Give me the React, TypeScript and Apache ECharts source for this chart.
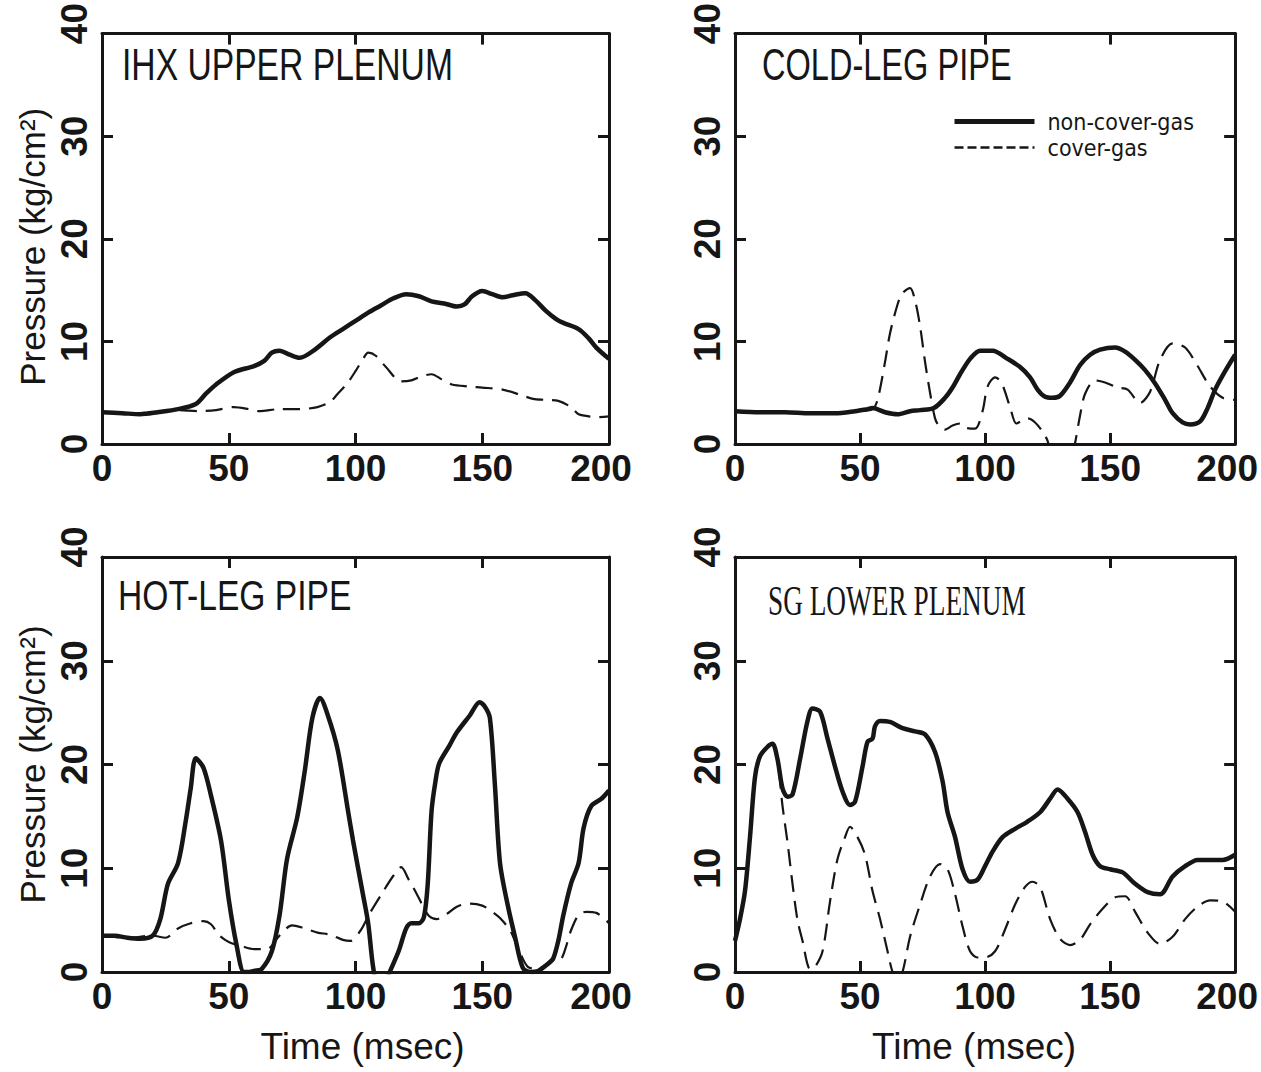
import React, { useEffect, useRef } from "react";
import * as echarts from "echarts";

// ---- data: [time (msec), pressure (kg/cm2)] ----
const ihxSolid = [[0,3.1],[8,3.0],[15,2.9],[22,3.1],[30,3.4],[37,3.9],[41,4.9],[45,5.8],[52,7.0],[60,7.6],[64,8.1],[67,8.9],[70,9.1],[74,8.7],[78,8.4],[84,9.2],[90,10.4],[95,11.2],[100,12.0],[105,12.8],[110,13.5],[115,14.2],[120,14.6],[125,14.4],[130,13.9],[135,13.7],[140,13.4],[143,13.6],[146,14.4],[150,14.9],[154,14.6],[158,14.3],[162,14.5],[167,14.7],[171,14.0],[175,13.0],[179,12.2],[182,11.8],[188,11.2],[192,10.3],[195,9.4],[200,8.3]];
const ihxDashed = [[0,3.1],[10,2.95],[20,3.1],[30,3.3],[38,3.2],[45,3.3],[52,3.6],[58,3.4],[62,3.2],[70,3.4],[78,3.4],[85,3.6],[90,4.1],[93,4.9],[97,6.0],[100,7.1],[103,8.3],[105,8.9],[108,8.6],[112,7.5],[118,6.1],[122,6.2],[126,6.6],[130,6.8],[134,6.3],[138,5.8],[145,5.6],[150,5.5],[158,5.3],[165,4.8],[170,4.4],[175,4.3],[180,4.2],[185,3.6],[188,2.9],[192,2.7],[195,2.6],[200,2.7]];

const coldSolid = [[0,3.2],[10,3.1],[20,3.1],[30,3.0],[40,3.0],[48,3.2],[53,3.4],[55,3.5],[60,3.1],[65,2.9],[70,3.2],[74,3.3],[79.5,3.5],[84,4.5],[87,5.5],[90,6.8],[94,8.3],[98,9.1],[103,9.1],[109,8.3],[114,7.5],[118,6.5],[121,5.3],[124,4.6],[127,4.5],[130,4.7],[134,6.0],[138,7.7],[142,8.7],[146,9.2],[152,9.4],[156,9.0],[160,8.2],[164,7.2],[168,5.9],[172,4.3],[175,3.0],[179,2.1],[182,1.9],[186,2.2],[189,3.5],[192,5.3],[196,7.1],[200,8.7]];
const coldDashed = [[0,3.2],[10,3.1],[20,3.1],[30,3.0],[40,3.0],[50,3.2],[55,3.4],[57,4.3],[60,8.0],[62,10.8],[65,13.6],[67,14.7],[70,15.2],[72,14.0],[74,11.5],[76,8.0],[78,5.0],[80,2.5],[81.5,1.8],[84,1.4],[87,1.8],[90,2.0],[92,1.6],[96,1.5],[99,3.2],[101,5.6],[104,6.5],[106.5,6.0],[110,3.6],[112.5,2.0],[115,2.3],[117,2.5],[120,2.1],[123,1.2],[125,0.3],[128,-2.5],[131,-3.5],[134,-2.0],[136,0.1],[138,2.8],[140,4.9],[144,6.2],[148,6.0],[153,5.5],[157,5.3],[162,4.0],[166,5.1],[170,8.2],[175,9.8],[180,9.4],[185,7.6],[190,5.6],[195,4.5],[200,4.3]];

const hotSolid = [[0,3.5],[5,3.5],[10,3.3],[15,3.2],[20,3.5],[23,5.1],[26,8.5],[30,10.5],[33,14.5],[35,17.7],[37,20.6],[40,19.7],[43,17.0],[47,12.6],[50,7.0],[53,2.7],[56,0.0],[58,0.0],[60,0.1],[63,0.3],[67,2.0],[70,5.4],[73,10.9],[77,14.9],[80,19.4],[83,24.5],[86,26.4],[89,24.8],[93,21.4],[97,15.6],[99,12.7],[103,7.4],[105,4.7],[107,0.4],[109,-1.5],[111,-1.5],[113.5,0.0],[117,2.0],[120,4.2],[122,4.7],[125,4.7],[127,5.3],[128.5,8.5],[130,15.5],[131.5,18.3],[133,20.1],[137,21.8],[140,23.1],[145,24.7],[149,26.0],[151,25.6],[153,24.5],[155,18.0],[157,10.5],[160,6.5],[163,3.3],[166,0.4],[169,0.0],[172,0.1],[176,0.8],[178,1.3],[180,3.0],[182,5.5],[185,8.5],[188,10.5],[190,13.9],[193,16.0],[197,16.7],[200,17.5]];
const hotDashed = [[0,3.5],[10,3.3],[20,3.5],[25,3.3],[30,4.2],[35,4.7],[40,4.9],[43,4.6],[46,3.6],[50,2.9],[55,2.5],[60,2.2],[65,2.2],[70,3.5],[75,4.5],[80,4.2],[85,3.8],[90,3.6],[95,3.1],[98,3.0],[102,4.0],[105.5,5.6],[110,7.4],[115,9.3],[118,10.1],[121,8.9],[124,7.6],[126.5,6.4],[129,5.4],[132,5.1],[136,5.6],[140,6.3],[145,6.6],[150,6.4],[154,5.8],[157,5.2],[161,4.0],[165,1.8],[168,0.5],[172,0.3],[175.5,0.8],[177.5,1.2],[180,1.0],[181.5,1.4],[183,2.4],[185,4.0],[188,5.5],[191,5.8],[195,5.7],[200,4.7]];

const sgSolid = [[0,3.0],[2,5.1],[4,7.8],[6,13.0],[8,18.8],[10,20.8],[13,21.7],[15,22.0],[17,20.5],[19,17.7],[21,16.9],[23,17.1],[26,20.5],[29,24.2],[31,25.4],[34,25.1],[37,22.5],[40,19.8],[43,17.4],[46,16.1],[48,16.4],[51,19.8],[53,22.2],[55,22.5],[56,23.7],[58,24.2],[62,24.1],[67,23.5],[72,23.2],[76,22.9],[80,21.2],[83,18.4],[85,15.4],[88,13.0],[91,9.9],[94,8.7],[97,8.9],[100,10.2],[103,11.6],[107,13.0],[112,13.8],[117,14.5],[122,15.4],[126,16.7],[129,17.6],[133,16.7],[137,15.4],[140,13.5],[143,11.3],[146,10.2],[150,9.9],[155,9.6],[160,8.5],[165,7.7],[170,7.5],[175,9.2],[180,10.2],[185,10.8],[190,10.8],[195,10.8],[200,11.3]];
const sgDashed = [[0,3.0],[2,5.1],[4,7.8],[6,13.0],[8,18.8],[10,20.8],[13,21.7],[15,22.0],[17,20.5],[19,16.0],[21,12.5],[23,8.5],[25,5.0],[27,3.0],[30,0.3],[32,0.5],[35,2.0],[38,6.8],[41,10.9],[44,13.0],[46,14.0],[49,13.0],[52,11.3],[55,7.8],[58,5.1],[61,2.0],[63,0.0],[65,-0.8],[67,0.0],[70,3.4],[74,6.5],[78,9.2],[82,10.4],[85,9.9],[88,7.5],[91,4.4],[94,2.0],[97,1.4],[100,1.4],[104,2.0],[108,4.1],[112,6.5],[116,8.2],[119,8.7],[122,8.2],[126,5.1],[130,3.2],[134,2.6],[138,3.1],[142,4.6],[147,6.1],[152,7.2],[156,7.3],[160,5.8],[165,3.8],[170,2.7],[175,3.4],[180,5.1],[185,6.3],[190,6.9],[195,6.8],[200,5.8]];

const panelTitles = ["IHX UPPER PLENUM", "COLD-LEG PIPE", "HOT-LEG PIPE", "SG LOWER PLENUM"];
const seriesNames = ["non-cover-gas", "cover-gas"];
const panelData = [
  [ihxSolid, ihxDashed],
  [coldSolid, coldDashed],
  [hotSolid, hotDashed],
  [sgSolid, sgDashed],
];
const xTitle = "Time (msec)";
const yTitle = "Pressure (kg/cm\u00B2)";

const INK = "#161616";
const TICKFONT = "'Liberation Sans', Arial, sans-serif";
const CONDENSED = "'DejaVu Sans Condensed', 'Liberation Sans', sans-serif";
const SANS = "'Liberation Sans', Arial, sans-serif";
const SERIF = "'Liberation Serif', 'Times New Roman', serif";

const grids = [
  { left: 102, top: 31, width: 507, height: 413 },
  { left: 735, top: 31, width: 503, height: 413 },
  { left: 102, top: 557, width: 507, height: 415 },
  { left: 735, top: 557, width: 503, height: 415 },
];

const tickText = { color: INK, fontFamily: TICKFONT, fontWeight: "bold" as const, fontSize: 37 };

function buildOption() {
  const xAxis: any[] = [];
  const yAxis: any[] = [];
  const series: any[] = [];
  const frameLine = { show: true, onZero: false, lineStyle: { color: INK, width: 3 } };
  const tick = { show: true, inside: true, length: 11, lineStyle: { color: INK, width: 3 } };
  grids.forEach((g, i) => {
    const isBottom = i >= 2;
    const isLeft = i % 2 === 0;
    xAxis.push({
      gridIndex: i, type: "value", position: "bottom", min: 0, max: 200, interval: 50,
      axisLine: frameLine, axisTick: tick, splitLine: { show: false },
      axisLabel: {
        show: true, ...tickText, margin: 6, showMinLabel: true, showMaxLabel: true,
        formatter: (v: number) => (v === 200 ? `{end|${v}}` : `{n|${v}}`),
        rich: { n: { ...tickText }, end: { ...tickText, padding: [0, 16, 0, 0] } },
      },
      name: isBottom ? xTitle : "", nameLocation: "middle", nameGap: 56,
      nameTextStyle: { color: INK, fontFamily: SANS, fontSize: 37, padding: isLeft ? [0, 0, 0, 14] : [0, 22, 0, 0] },
    });
    xAxis.push({
      gridIndex: i, type: "value", position: "top", min: 0, max: 200, interval: 50,
      axisLine: frameLine, axisTick: tick, splitLine: { show: false }, axisLabel: { show: false },
    });
    yAxis.push({
      gridIndex: i, type: "value", position: "left", min: 0, max: 40, interval: 10,
      axisLine: frameLine, axisTick: tick, splitLine: { show: false },
      axisLabel: {
        show: true, rotate: 90, ...tickText, margin: 9, showMinLabel: true, showMaxLabel: true,
        formatter: (v: number) => (v === 40 ? `{top|${v}}` : `{n|${v}}`),
        rich: { n: { ...tickText }, top: { ...tickText, padding: [0, 0, 0, 20] } },
      },
      name: isLeft ? yTitle : "", nameLocation: "middle", nameGap: 52, nameRotate: 90,
      nameTextStyle: { color: INK, fontFamily: SANS, fontSize: 35, padding: i === 0 ? [0, 16, 0, 0] : 0 },
    });
    yAxis.push({
      gridIndex: i, type: "value", position: "right", min: 0, max: 40, interval: 10,
      axisLine: frameLine, axisTick: tick, splitLine: { show: false }, axisLabel: { show: false },
    });
    const [solid, dashed] = panelData[i];
    series.push({
      name: seriesNames[0], type: "line", xAxisIndex: 2 * i, yAxisIndex: 2 * i,
      data: solid, symbol: "none", smooth: 0.3, clip: true,
      lineStyle: { color: INK, width: 4.5 }, itemStyle: { color: INK }, z: 3,
    });
    series.push({
      name: seriesNames[1], type: "line", xAxisIndex: 2 * i, yAxisIndex: 2 * i,
      data: dashed, symbol: "none", smooth: 0.3, clip: true,
      lineStyle: { color: INK, width: 2.2, type: [17, 9] }, itemStyle: { color: INK }, z: 2,
    });
  });

  const titleSpecs = [
    { x: 122, y: 43, sx: 0.765, font: SANS, size: 44 },
    { x: 762, y: 43, sx: 0.74, font: SANS, size: 44 },
    { x: 118, y: 575, sx: 0.8, font: SANS, size: 42 },
    { x: 768, y: 580, sx: 0.65, font: SERIF, size: 42 },
  ];
  const graphic = titleSpecs.map((t, i) => ({
    type: "text", x: t.x, y: t.y, scaleX: t.sx, silent: true,
    style: { text: panelTitles[i], fontFamily: t.font, fontSize: t.size, fill: INK, align: "left", verticalAlign: "top" },
  }));

  return {
    animation: false,
    backgroundColor: "#ffffff",
    grid: grids.map((g) => ({ ...g, containLabel: false })),
    xAxis, yAxis, series, graphic,
    legend: {
      show: true, orient: "vertical", left: 947, top: 105,
      data: [
        { name: seriesNames[0], lineStyle: { width: 5, color: INK, type: "solid" } },
        { name: seriesNames[1], lineStyle: { width: 2.5, color: INK, type: [9, 4] } },
      ],
      itemWidth: 80, itemHeight: 14, itemGap: 3,
      itemStyle: { opacity: 0, borderWidth: 0 },
      textStyle: { color: INK, fontFamily: CONDENSED, fontSize: 23, padding: [0, 0, 0, 8] },
      selectedMode: false,
    },
  };
}

export default function App() {
  const ref = useRef<HTMLDivElement>(null);
  useEffect(() => {
    if (!ref.current) return;
    const chart = echarts.init(ref.current, null, { renderer: "svg" });
    chart.setOption(buildOption() as any);
    return () => chart.dispose();
  }, []);
  return (
    <div
      ref={ref}
      style={{ position: "fixed", left: 0, top: 0, width: 1261, height: 1072, background: "#fff" }}
    />
  );
}
